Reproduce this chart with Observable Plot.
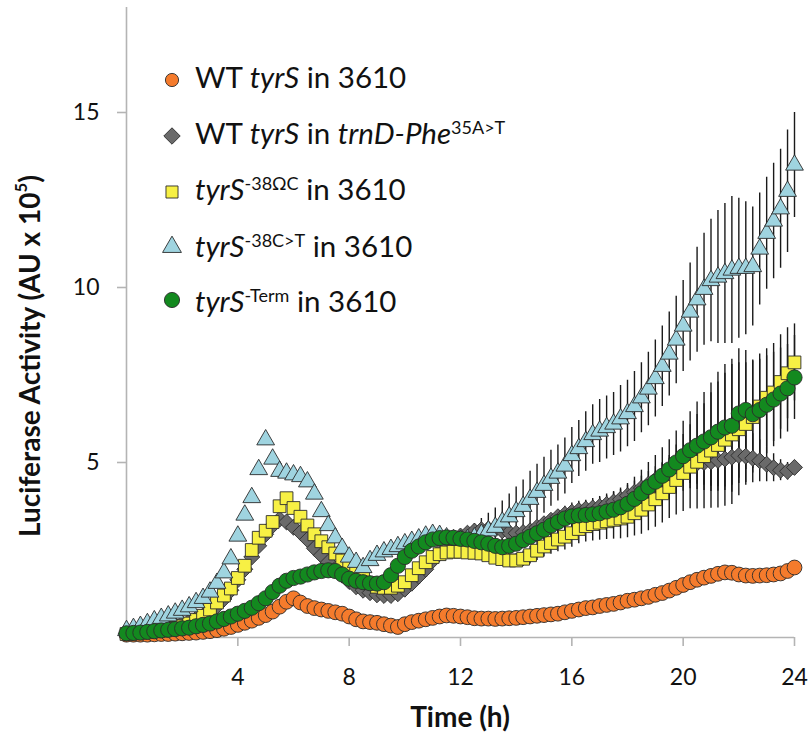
<!DOCTYPE html>
<html><head><meta charset="utf-8">
<script src="https://cdn.jsdelivr.net/npm/d3@7"></script>
<script src="https://cdn.jsdelivr.net/npm/@observablehq/plot@0.6"></script>
<style>
body{margin:0;background:#fff;}
#wrap{position:relative;width:809px;height:732px;font-family:Lato,"Open Sans",sans-serif;color:#111;}
#wrap svg{position:absolute;left:0;top:0;}
.ttl{position:absolute;font-weight:bold;white-space:nowrap;color:#111;}
</style>
</head><body><div id="wrap"></div>
<script>
// ---- data ----
const hours = [
 0,0.25,0.5,0.75,1,1.25,1.5,1.75,
 2,2.25,2.5,2.75,3,3.25,3.5,3.75,
 4,4.25,4.5,4.75,5,5.25,5.5,5.75,
 6,6.25,6.5,6.75,7,7.25,7.5,7.75,
 8,8.25,8.5,8.75,9,9.25,9.5,9.75,
 10,10.25,10.5,10.75,11,11.25,11.5,11.75,
 12,12.25,12.5,12.75,13,13.25,13.5,13.75,
 14,14.25,14.5,14.75,15,15.25,15.5,15.75,
 16,16.25,16.5,16.75,17,17.25,17.5,17.75,
 18,18.25,18.5,18.75,19,19.25,19.5,19.75,
 20,20.25,20.5,20.75,21,21.25,21.5,21.75,
 22,22.25,22.5,22.75,23,23.25,23.5,23.75,
 24];

const wtIn3610 = [
 0.08,0.08,0.08,0.08,0.09,0.10,0.10,0.11,
 0.12,0.13,0.14,0.16,0.18,0.21,0.25,0.30,
 0.36,0.42,0.48,0.56,0.64,0.74,0.88,1.02,
 1.12,1.00,0.90,0.84,0.80,0.76,0.72,0.68,
 0.60,0.52,0.46,0.44,0.42,0.38,0.34,0.30,
 0.38,0.44,0.48,0.52,0.56,0.60,0.63,0.62,
 0.60,0.58,0.55,0.54,0.54,0.53,0.54,0.55,
 0.56,0.58,0.60,0.62,0.64,0.66,0.68,0.72,
 0.76,0.80,0.84,0.86,0.90,0.93,0.96,1.00,
 1.05,1.08,1.12,1.16,1.22,1.27,1.34,1.42,
 1.50,1.58,1.65,1.71,1.76,1.82,1.86,1.85,
 1.80,1.77,1.76,1.77,1.78,1.80,1.83,1.90,
 2.00];

const wtInTrnD = [
 0.12,0.14,0.17,0.20,0.24,0.27,0.31,0.35,
 0.40,0.46,0.53,0.62,0.75,0.90,1.10,1.35,
 1.65,1.95,2.30,2.62,2.95,3.20,3.38,3.30,
 3.15,3.00,2.80,2.55,2.35,2.15,1.95,1.78,
 1.60,1.45,1.35,1.28,1.22,1.20,1.20,1.25,
 1.38,1.55,1.75,1.95,2.20,2.45,2.65,2.80,
 2.90,2.98,3.04,3.08,3.10,3.10,3.05,3.00,
 2.98,3.00,3.05,3.15,3.25,3.35,3.45,3.52,
 3.58,3.63,3.67,3.70,3.74,3.80,3.87,3.95,
 4.05,4.15,4.27,4.38,4.50,4.60,4.70,4.80,
 4.88,4.95,4.98,5.00,5.02,5.06,5.10,5.15,
 5.20,5.18,5.12,5.05,4.95,4.85,4.78,4.75,
 4.86];

const omegaC = [
 0.10,0.12,0.14,0.16,0.18,0.20,0.23,0.27,
 0.32,0.40,0.50,0.62,0.80,1.00,1.20,1.40,
 1.70,2.05,2.50,2.85,3.05,3.30,3.75,3.98,
 3.70,3.45,3.20,2.95,2.75,2.58,2.40,2.20,
 2.00,1.85,1.70,1.55,1.45,1.42,1.42,1.48,
 1.58,1.78,1.98,2.15,2.30,2.38,2.43,2.45,
 2.45,2.43,2.42,2.40,2.35,2.28,2.24,2.20,
 2.20,2.25,2.35,2.48,2.60,2.70,2.80,2.88,
 2.98,3.10,3.18,3.24,3.28,3.32,3.36,3.40,
 3.45,3.55,3.65,3.80,3.95,4.12,4.30,4.50,
 4.70,4.88,5.02,5.18,5.34,5.50,5.65,5.80,
 5.95,6.10,6.30,6.60,6.85,7.00,7.30,7.55,
 7.86];

const cToT = [
 0.20,0.26,0.32,0.40,0.48,0.55,0.62,0.70,
 0.78,0.88,1.00,1.12,1.30,1.55,1.85,2.25,
 2.90,3.50,4.00,4.80,5.65,5.10,4.75,4.70,
 4.65,4.60,4.45,4.10,3.60,3.20,2.85,2.55,
 2.30,2.15,2.00,2.20,2.35,2.45,2.52,2.60,
 2.68,2.75,2.82,2.90,2.95,2.92,2.85,2.80,
 2.78,2.80,2.85,2.95,3.05,3.15,3.30,3.45,
 3.60,3.75,3.95,4.15,4.35,4.55,4.70,4.90,
 5.20,5.40,5.60,5.80,5.90,6.00,6.10,6.25,
 6.40,6.60,6.85,7.10,7.40,7.75,8.10,8.50,
 8.90,9.30,9.65,9.95,10.20,10.30,10.40,10.50,
 10.55,10.55,10.60,11.10,11.55,11.90,12.25,12.75,
 13.50];

const term = [
 0.12,0.13,0.14,0.16,0.18,0.20,0.22,0.24,
 0.26,0.28,0.32,0.36,0.40,0.46,0.53,0.60,
 0.68,0.76,0.85,0.98,1.12,1.30,1.48,1.62,
 1.70,1.74,1.80,1.86,1.90,1.92,1.90,1.80,
 1.68,1.62,1.58,1.55,1.54,1.58,1.78,2.05,
 2.30,2.48,2.60,2.72,2.80,2.84,2.86,2.85,
 2.82,2.80,2.76,2.72,2.68,2.62,2.58,2.62,
 2.68,2.78,2.88,2.98,3.08,3.20,3.30,3.40,
 3.46,3.49,3.50,3.52,3.55,3.60,3.65,3.72,
 3.82,3.96,4.12,4.30,4.45,4.62,4.80,5.00,
 5.18,5.35,5.48,5.60,5.72,5.88,6.00,6.05,
 6.40,6.50,6.38,6.50,6.65,6.80,6.97,7.12,
 7.43];

// error bars (± value), from hour 12 onward (index offset 48 in hours)
const errStart = 48;
const errTrnD = [
 0.10,0.10,0.10,0.10,0.10,0.10,0.10,0.10,
 0.12,0.12,0.14,0.14,0.16,0.16,0.18,0.18,
 0.20,0.20,0.22,0.22,0.25,0.25,0.28,0.28,
 0.30,0.32,0.34,0.36,0.38,0.40,0.42,0.45,
 0.50,0.55,0.60,0.65,0.70,0.75,0.80,0.80,
 0.80,0.75,0.70,0.60,0.50,0.40,0.30,0.25,
 0.20];
const errOmegaC = [
 0.10,0.10,0.10,0.10,0.12,0.14,0.16,0.18,
 0.20,0.22,0.25,0.28,0.30,0.32,0.35,0.38,
 0.40,0.42,0.45,0.48,0.50,0.52,0.55,0.58,
 0.60,0.65,0.70,0.75,0.80,0.85,0.90,1.00,
 1.10,1.20,1.35,1.50,1.65,1.80,1.90,2.00,
 1.90,1.75,1.60,1.50,1.40,1.40,1.35,1.30,
 1.10];
const errCtoT = [
 0.30,0.35,0.40,0.45,0.50,0.55,0.60,0.65,
 0.70,0.75,0.80,0.80,0.80,0.80,0.80,0.80,
 0.80,0.80,0.85,0.85,0.90,0.90,0.90,0.95,
 0.95,1.00,1.00,1.05,1.10,1.15,1.20,1.25,
 1.30,1.40,1.50,1.60,1.75,1.90,2.00,2.10,
 2.00,1.90,1.70,1.60,1.60,1.65,1.70,1.75,
 1.50];
const errTerm = [
 0.10,0.10,0.10,0.10,0.10,0.12,0.14,0.16,
 0.18,0.20,0.22,0.25,0.28,0.30,0.32,0.35,
 0.38,0.40,0.42,0.45,0.48,0.50,0.52,0.55,
 0.58,0.62,0.66,0.70,0.75,0.80,0.85,0.90,
 1.00,1.10,1.25,1.40,1.55,1.70,1.80,1.90,
 1.85,1.70,1.55,1.45,1.40,1.35,1.30,1.25,
 1.20];

const xTicks = [4, 8, 12, 16, 20, 24];
const yTicks = [5, 10, 15];

const xTitle = "Time (h)";
const yTitleHTML = "Luciferase Activity (AU x 10<sup>5</sup>)";

const legendLabels = [
 [["WT ",""],["tyrS","i"],[" in 3610",""]],
 [["WT ",""],["tyrS","i"],[" in ",""],["trnD-Phe","i"],["35A>T","s"]],
 [["tyrS","i"],["-38ΩC","s"],[" in 3610",""]],
 [["tyrS","i"],["-38C>T","s"],[" in 3610",""]],
 [["tyrS","i"],["-Term","s"],[" in 3610",""]]
];

// ---- styles ----
const series = [
 {values: wtIn3610, err: null,      symbol: "circle",   r: 7.4, fill: "#f57b2c"},
 {values: wtInTrnD, err: errTrnD,   symbol: "diamond2", r: 7.2, fill: "#6a6a6a"},
 {values: omegaC,   err: errOmegaC, symbol: "square",   r: 7.2, fill: "#f7f044"},
 {values: cToT,     err: errCtoT,   symbol: "triangle", r: 6.6, fill: "#9fd4e0"},
 {values: term,     err: errTerm,   symbol: "circle",   r: 7.6, fill: "#13891f"}
];
const axisGray = "#b4b4b4";

const errRows = [];
series.forEach((s) => {
  if (!s.err) return;
  s.err.forEach((e, j) => {
    const i = errStart + j;
    errRows.push({t: hours[i], lo: s.values[i] - e, hi: s.values[i] + e});
  });
});

const dotMarks = series.map(s => Plot.dot(
  hours.map((t, i) => ({t, v: s.values[i]})),
  {x: "t", y: "v", symbol: () => s.symbol, r: s.r, fill: s.fill, stroke: "#2b2b2b", strokeWidth: 0.9}
));

const chart = Plot.plot({
  width: 809, height: 732,
  marginLeft: 126, marginRight: 15, marginTop: 7, marginBottom: 95,
  x: {domain: [0, 24]},
  y: {domain: [0, 18]},
  symbol: {type: "identity"},
  style: {fontFamily: "Lato, 'Open Sans', sans-serif", fontSize: "23px", color: "#111", background: "transparent"},
  marks: [
    Plot.ruleY([0], {stroke: axisGray, strokeWidth: 1.6}),
    Plot.ruleX([0], {stroke: axisGray, strokeWidth: 1.6}),
    Plot.axisX({ticks: xTicks, tickSize: 9, tickPadding: 22, stroke: axisGray, fill: "#111", strokeWidth: 1.6, label: null, tickFormat: d => String(d)}),
    Plot.axisY({ticks: yTicks, tickSize: 9, tickPadding: 18, stroke: axisGray, fill: "#111", strokeWidth: 1.6, label: null, tickFormat: d => String(d)}),
    Plot.ruleX(errRows, {x: "t", y1: "lo", y2: "hi", stroke: "#1a1a1a", strokeWidth: 1.4}),
    ...dotMarks
  ]
});

const wrap = document.getElementById("wrap");
wrap.appendChild(chart);

// axis titles
const xt = document.createElement("div");
xt.className = "ttl";
xt.style.cssText = "left:460px;top:716px;transform:translate(-50%,-50%);font-size:28px;";
xt.textContent = xTitle;
wrap.appendChild(xt);

const yt = document.createElement("div");
yt.className = "ttl";
yt.style.cssText = "left:29px;top:356px;transform:translate(-50%,-50%) rotate(-90deg);font-size:28px;";
yt.innerHTML = yTitleHTML.replace("<sup>", "<sup style='font-size:0.6em;vertical-align:0.75em;line-height:0'>");
wrap.appendChild(yt);

// legend
const legSym = [80, 136, 192, 247, 300];
const legBase = [88, 144, 200, 257, 312];
const legSvg = d3.select(wrap).append("svg")
  .attr("width", 809).attr("height", 732)
  .style("pointer-events", "none");
const symMap = {circle: d3.symbolCircle, diamond2: d3.symbolDiamond2, square: d3.symbolSquare, triangle: d3.symbolTriangle};
const legR = [6.6, 7.4, 6.8, 7.0, 7.6];
series.forEach((s, k) => {
  legSvg.append("path")
    .attr("d", d3.symbol(symMap[s.symbol], Math.PI * legR[k] * legR[k])())
    .attr("transform", `translate(172,${legSym[k]})`)
    .attr("fill", s.fill).attr("stroke", "#2b2b2b").attr("stroke-width", 0.9);
  const txt = legSvg.append("text")
    .attr("x", 195).attr("y", legBase[k])
    .attr("font-family", "Lato, 'Open Sans', sans-serif")
    .attr("font-size", 29.5).attr("fill", "#111");
  let raised = false;
  legendLabels[k].forEach(([str, st]) => {
    const ts = txt.append("tspan").text(str);
    if (st === "i") ts.attr("font-style", "italic");
    if (st === "s") { ts.attr("font-size", 18).attr("dy", -10); raised = true; }
    else if (raised) { ts.attr("dy", 10); raised = false; }
  });
});
</script></body></html>
